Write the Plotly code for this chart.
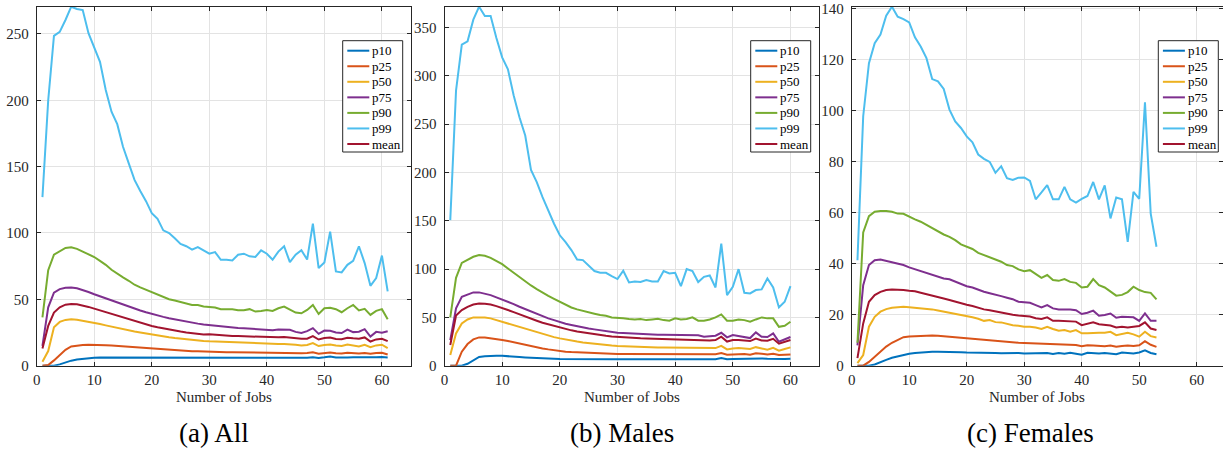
import plotly.graph_objects as go

# ---- data: wage percentiles by number of jobs held ----
jobs_all = list(range(1, 62))
jobs_males = list(range(1, 61))
jobs_females = list(range(1, 54))

all_p10 = [0, 0, 0, 1, 2.5, 3.8, 4.6, 5.2, 5.7, 6,
           6.1, 6.1, 6.1, 6.1, 6, 6, 6, 5.9, 5.9, 5.8,
           5.8, 5.8, 5.7, 5.7, 5.7, 5.7, 5.8, 5.8, 5.8, 5.8,
           5.8, 5.8, 5.8, 5.9, 5.9, 5.9, 5.9, 5.9, 6, 6,
           6, 6, 6, 6, 6, 6, 6, 6.3, 5.8, 6.3,
           7, 6.2, 6, 6.1, 6.3, 6.2, 6.3, 6.1, 6.3, 6.5,
           6.2]
all_p25 = [0, 0.5, 4, 8, 12, 14.5, 15.3, 15.6, 15.8, 15.8,
           15.7, 15.5, 15.2, 14.9, 14.6, 14.2, 13.8, 13.4, 13, 12.6,
           12.3, 12, 11.8, 11.5, 11.3, 11.1, 10.9, 10.8, 10.6, 10.5,
           10.4, 10.3, 10.2, 10.2, 10.1, 10, 10, 9.9, 9.9, 9.8,
           9.8, 9.8, 9.8, 9.7, 9.5, 9.4, 9.5, 10.2, 9.1, 9.5,
           10, 9.4, 9.2, 9.8, 9.5, 9.2, 9.6, 9, 9.6, 9.8,
           8.4]
all_p50 = [3, 11, 29, 33, 34.5, 35, 34.7, 34, 33.2, 32.3,
           31.4, 30.4, 29.4, 28.5, 27.6, 26.7, 25.8, 25, 24.2, 23.4,
           22.7, 22, 21.4, 20.8, 20.3, 19.8, 19.3, 19, 18.7, 18.4,
           18.2, 17.9, 17.7, 17.5, 17.3, 17.1, 16.9, 16.8, 16.6, 16.5,
           16.4, 16.4, 16.3, 16.2, 15.7, 15.3, 15.6, 17, 14.8, 15.6,
           16, 15.2, 14.9, 16, 15.4, 14.5, 15.8, 14, 15.3, 15.8,
           13.2]
all_p75 = [15, 44, 55, 57.7, 58.8, 59, 58.3, 57, 55.5, 53.8,
           52.2, 50.6, 49, 47.4, 45.9, 44.4, 43, 41.6, 40.3, 39,
           37.9, 36.8, 35.8, 34.9, 34, 33.2, 32.4, 31.7, 31, 30.5,
           30.2, 29.5, 29, 28.7, 28.4, 28.2, 27.9, 27.6, 27.3, 27,
           26.8, 27.2, 27.3, 27, 25.5, 24.7, 26, 28.3, 24, 26.5,
           26.3, 25, 24.6, 27.2, 25.3, 25.6, 27.5, 22, 25.5, 24.9,
           26]
all_p90 = [36.5, 72, 83.6, 86, 88.7, 89.2, 88, 86, 84, 81.9,
           79, 76, 72.3, 69.3, 66.5, 64, 61, 59, 57.2, 55.2,
           53.1, 51.6, 50.1, 49.1, 47.9, 46.9, 45.8, 45.8, 44.6, 44.3,
           43.8, 42.6, 42.8, 42.6, 41.8, 41.8, 42.6, 40.8, 41.3, 42,
           41.3, 43.3, 44.6, 42, 40, 39.5, 42, 45.8, 39, 43.3,
           43.6, 42.6, 40.3, 43.3, 45.8, 41.6, 42.8, 38.3, 41.3, 42.6,
           35]
all_p99 = [127, 200, 248.5, 251.5, 260.5, 270.5, 268.8, 268, 250.5, 240.4,
           229, 207.8, 191.4, 182, 165, 152.5, 140, 131.6, 124, 115,
           110.6, 102, 100, 96, 91.7, 90, 87.4, 89.4, 86.6, 84.4,
           85.6, 79.8, 79.8, 79.3, 83.6, 84.4, 82.4, 81.9, 86.9, 84.4,
           79.8, 86, 90, 78, 83.6, 87, 80, 107, 73.6, 77.8,
           101, 71, 70.3, 76, 79, 90, 77.3, 60.2, 66, 83,
           56]
all_mean = [13, 30, 40, 44, 46, 46.5, 46.3, 45.5, 44.3, 43,
            41.7, 40.2, 38.7, 37.4, 36, 34.7, 33.4, 32.2, 31, 29.9,
            28.9, 28, 27.2, 26.4, 25.7, 25, 24.4, 24, 23.6, 23.7,
            23.3, 22.8, 22.6, 22.4, 22.3, 22.1, 22, 21.8, 21.5, 21.3,
            21.2, 21.4, 21.6, 21.1, 20.5, 20.3, 20.3, 22.3, 19.7, 20.8,
            21.3, 20.1, 19.9, 21.1, 20.6, 20.3, 21.3, 18.2, 19.8, 20.3,
            18.5]

males_p10 = [0, 0, 0, 2, 5.5, 9, 9.8, 10.2, 10.3, 10.2,
             10, 9.5, 9, 8.6, 8.2, 7.9, 7.6, 7.4, 7.2, 7,
             6.9, 6.9, 6.8, 6.8, 6.8, 6.7, 6.7, 6.8, 6.8, 6.8,
             6.8, 6.8, 6.8, 6.8, 6.9, 6.9, 6.9, 6.9, 6.9, 7,
             7, 7, 7, 7, 7, 6.9, 6.8, 8, 6.8, 7,
             7.2, 7, 6.9, 7.8, 7.5, 7.2, 6.9, 6.8, 7, 7.3]
males_p25 = [0, 0, 14.5, 22.4, 27.2, 29.3, 29.3, 28.6, 27.6, 26.6,
             25.5, 24.1, 22.8, 21.4, 20.3, 19, 17.9, 16.9, 15.9, 15.2,
             14.5, 14.1, 13.8, 13.4, 13.1, 12.8, 12.4, 12.4, 12.1, 12.1,
             12, 12, 12, 12, 12, 12, 12, 11.9, 11.9, 11.9,
             11.9, 11.9, 11.9, 11.9, 11.8, 11.8, 11.8, 13.1, 11.4, 11.7,
             12.1, 12.1, 11.4, 12.8, 12.4, 11.7, 12.4, 11, 11.4, 11.7]
males_p50 = [11, 33.4, 43.8, 47.9, 50, 50.3, 50, 49, 47.2, 45.5,
             43.8, 41.7, 39.8, 37.8, 36, 34.2, 32.5, 31, 29.6, 28.3,
             27, 25.9, 25, 24.1, 23.3, 22.5, 21.8, 21.2, 20.8, 20.4,
             20.1, 19.8, 19.5, 19.3, 19.1, 19, 18.9, 18.8, 18.7, 18.6,
             18.5, 18.5, 18.4, 18.3, 18, 17.8, 18.2, 20.5, 16.8, 17.8,
             18.2, 17.8, 17.3, 19.2, 17.8, 16.5, 18.5, 15.5, 17.3, 19]
males_p75 = [26.5, 59.3, 71.4, 73.8, 75.9, 75.9, 74.8, 73.1, 70.7, 68.6,
             66.2, 63.8, 61, 58.6, 55.9, 53.4, 51, 49, 47.2, 45.2,
             43.4, 42.1, 40.7, 39.7, 38.6, 37.6, 36.6, 35.5, 34.8, 34.1,
             33.8, 33.4, 33.1, 32.8, 32.4, 32.4, 32.1, 32.1, 32.1, 32.1,
             31.7, 31.7, 32.1, 31.4, 30, 30.7, 31, 34.1, 29.3, 31.7,
             30.7, 29, 28.6, 34.5, 30, 29.7, 33.4, 24.8, 27.6, 29.7]
males_p90 = [50, 91, 106.5, 109.3, 112.8, 114.5, 113.8, 111.7, 108.6, 105.2,
             100.7, 96.2, 91.4, 87.2, 83.1, 79.3, 75.5, 72.4, 69.3, 66.2,
             62.8, 60.3, 58.3, 56.6, 54.8, 53.8, 52.4, 51.7, 50, 49.7,
             49, 48.3, 47.9, 48.3, 47.2, 47.9, 48.6, 47.2, 46.6, 49,
             47.9, 48.3, 50, 46.6, 46.6, 47.9, 50, 53.1, 46.6, 46.6,
             47.9, 47.2, 45.5, 47.9, 50, 49, 49, 40.3, 41.4, 45.5]
males_p99 = [150.7, 284.8, 332.4, 335.9, 358.3, 371.7, 362, 362, 339.3, 319.3,
             306.9, 279.7, 257.2, 238.3, 202.8, 190, 174.5, 160, 147, 135,
             128, 119.7, 110, 109.3, 103.4, 98, 96.2, 96.2, 92.8, 89.7,
             98.3, 86.2, 87.2, 86.6, 88.6, 87.2, 87.2, 98, 95.5, 96.2,
             82.4, 100, 98, 86.6, 92, 93.4, 81, 126.5, 73.1, 81.7,
             100, 75.5, 74.8, 78.3, 79, 90.3, 81, 60.3, 66.2, 82.4]
males_mean = [21.4, 52, 57.6, 61, 63.4, 64.5, 64.1, 63.4, 61.7, 59.3,
              57.6, 55.5, 53.1, 51, 48.6, 46.6, 44.5, 42.8, 41, 39.3,
              37.9, 36.6, 35.5, 34.5, 33.4, 32.4, 31.7, 31, 30.3, 29.8,
              29.3, 29, 28.7, 28.4, 28.2, 28, 27.8, 27.6, 27.4, 27.2,
              27, 27, 27.2, 26.8, 26.2, 26.2, 26.5, 30, 25, 26.6,
              26.6, 25.8, 25.5, 28, 26.2, 25.8, 27.8, 22.8, 24.9, 26.6]

females_p10 = [0, 0, 0, 0.5, 1.5, 2.3, 3.1, 3.7, 4.3, 4.7,
               5, 5.2, 5.4, 5.5, 5.5, 5.5, 5.4, 5.4, 5.3, 5.2,
               5.2, 5.1, 5, 5.1, 5, 4.9, 5, 4.9, 5, 4.8,
               4.9, 4.9, 4.8, 5, 4.6, 5, 4.7, 5.1, 4.7, 4.3,
               5.1, 4.9, 4.8, 5, 4.7, 4.5, 5.2, 5, 4.8, 5.2,
               6, 5, 4.5]
females_p25 = [0, 0, 1.5, 3.5, 5.7, 7.5, 9, 10.2, 11.2, 11.5,
               11.6, 11.8, 11.9, 11.9, 11.8, 11.6, 11.4, 11.2, 11, 10.8,
               10.6, 10.3, 10, 9.9, 9.7, 9.5, 9.3, 9.1, 9, 8.9,
               8.8, 8.6, 8.5, 8.5, 8.4, 8.4, 8.1, 8.2, 8.1, 7.6,
               8, 7.9, 7.8, 7.6, 7.9, 7.4, 7.7, 7.9, 7.7, 8,
               9.6, 8.2, 7.4]
females_p50 = [1, 4.2, 15.3, 19.2, 21.2, 22.2, 22.7, 23, 23.1, 22.9,
               22.7, 22.7, 22.4, 22.1, 21.7, 21.3, 20.8, 20.3, 19.9, 19.5,
               19, 18.4, 17.6, 17.9, 17.1, 17, 16.3, 15.9, 15.7, 15.3,
               15.3, 15, 14.4, 15.3, 14.4, 13.7, 14, 13.3, 14, 12.7,
               12.7, 12.9, 12.9, 12.9, 13.3, 12, 12.4, 12.9, 12.3, 11.4,
               13.3, 11.6, 11.1]
females_p75 = [8, 31.6, 39.5, 41.4, 41.7, 41.2, 40.5, 40.1, 39.5, 38.6,
               37.9, 37.1, 36.5, 35.9, 35.2, 34.2, 33.9, 32.9, 32, 31.2,
               30.7, 29.7, 29, 28.4, 28, 27.3, 26.7, 26.1, 25.1, 25,
               24.7, 23.8, 22.9, 23.8, 22.5, 22.1, 22.1, 22.1, 21.8, 20.3,
               20.8, 21.6, 19.6, 19.9, 20.5, 18.8, 19.2, 19.2, 19, 17.6,
               20.5, 17.6, 17.6]
females_p90 = [9, 52.3, 58.7, 60.4, 60.7, 60.7, 60.4, 59.7, 59.6, 58.4,
               57.4, 56.5, 55.2, 53.9, 52.8, 51.5, 50.6, 49.3, 47.6, 46.7,
               45.8, 44.3, 43.4, 42.4, 41.7, 40.8, 39.5, 39.1, 37.8, 37.1,
               37.5, 35.9, 34.5, 35.6, 33.6, 33.3, 34, 32.9, 32.5, 30.7,
               31, 34, 31.6, 30.7, 29, 27.5, 27.8, 28.9, 31, 29.7,
               28.9, 28.6, 26]
females_p99 = [41.4, 97.9, 118.7, 126.6, 130, 137.4, 140.9, 137, 136, 134.7,
               128.9, 125.3, 120.7, 112.5, 111.6, 108.6, 100.5, 95.9, 93.3, 90,
               87.7, 82.9, 81.2, 80, 75.7, 78.3, 73.6, 72.9, 73.8, 73.9,
               72.5, 65.3, 68, 70.9, 65.3, 65.3, 70.2, 65.3, 64, 65.5,
               66.6, 72.1, 65.3, 70.8, 57.8, 66, 65.3, 48.6, 68.2, 65.5,
               103.4, 59.7, 46.7]
females_mean = [3, 16.6, 25.1, 27.7, 29, 29.7, 29.9, 29.9, 29.7, 29.4,
                29.2, 28.6, 28.1, 27.6, 27.1, 26.4, 25.8, 25.1, 24.4, 23.9,
                23.4, 22.7, 22.1, 21.8, 21.3, 20.8, 20.3, 20, 19.7, 19.6,
                19.3, 18.6, 18.3, 19, 17.6, 17.6, 17.5, 17.3, 17.3, 15.9,
                16.3, 17, 16.3, 16.1, 15.8, 15, 15.3, 15, 15.3, 15.6,
                17, 14.6, 14]

series_names = ["p10", "p25", "p50", "p75", "p90", "p99", "mean"]
series_colors = ["#0072BD", "#D95319", "#EDB120", "#7E2F8E",
                 "#77AC30", "#4DBEEE", "#A2142F"]
captions = ["(a) All", "(b) Males", "(c) Females"]

panels = [
    (jobs_all, [all_p10, all_p25, all_p50, all_p75, all_p90, all_p99, all_mean], 50),
    (jobs_males, [males_p10, males_p25, males_p50, males_p75, males_p90, males_p99, males_mean], 50),
    (jobs_females, [females_p10, females_p25, females_p50, females_p75, females_p90, females_p99, females_mean], 20),
]

# ---- layout geometry (pixels on a 1223 x 449 canvas) ----
W, H = 1223, 449
x_domains_px = [(36.7, 410.7), (444.5, 819.3), (851.7, 1223)]
x_ranges = [[0, 65], [0, 65], [0, 64.57]]
y_top_px, y_bot_px = 6.7, 365.7
legend_left_px = [342.7, 750.7, 1158.3]
legend_top_px, legend_w, legend_h = 40.7, 60.0, 111.3
legend_row0, legend_step = 10.0, 15.55
caption_center_px = [214, 622, 1030]

AXIS_COLOR = "#262626"
GRID_COLOR = "#e3e3e3"
FONT = "Liberation Serif, Times New Roman, Times, serif"


def px_x(v):
    return v / W


def px_y(v):
    return 1 - v / H


fig = go.Figure()
shapes = []
annotations = []
layout = dict(
    width=W, height=H,
    margin=dict(l=0, r=0, t=0, b=0, autoexpand=False),
    paper_bgcolor="white", plot_bgcolor="white",
    showlegend=False,
)

for i, (xs, ys_list, ystep) in enumerate(panels):
    n = "" if i == 0 else str(i + 1)
    for name, color, ys in zip(series_names, series_colors, ys_list):
        fig.add_trace(go.Scatter(
            x=xs, y=ys, name=name, mode="lines",
            line=dict(color=color, width=2),
            xaxis="x" + n, yaxis="y" + n,
        ))
    ymax = max(max(s) for s in ys_list)
    x0, x1 = x_domains_px[i]
    common = dict(
        showline=True, linecolor=AXIS_COLOR, linewidth=1, mirror="ticks",
        ticks="inside", ticklen=4, tickcolor=AXIS_COLOR, tickwidth=1,
        showgrid=True, gridcolor=GRID_COLOR, gridwidth=1, zeroline=False,
        tickfont=dict(family=FONT, size=15, color=AXIS_COLOR),
        automargin=False,
    )
    layout["xaxis" + n] = dict(
        common, domain=[px_x(x0), min(px_x(x1), 1.0)], range=x_ranges[i],
        tickmode="linear", tick0=0, dtick=10,
        anchor="y" + n, ticklabelstandoff=0,
    )
    layout["yaxis" + n] = dict(
        common, domain=[px_y(y_bot_px), px_y(y_top_px)], range=[0, ymax],
        tickmode="linear", tick0=0, dtick=ystep,
        anchor="x" + n, ticklabelstandoff=4,
    )

    # legend box drawn in figure pixels
    lx, ly = legend_left_px[i], legend_top_px
    shapes.append(dict(
        type="rect", xref="paper", yref="paper",
        x0=px_x(lx), x1=px_x(lx + legend_w),
        y0=px_y(ly + legend_h), y1=px_y(ly),
        fillcolor="white", line=dict(color=AXIS_COLOR, width=1), layer="above",
    ))
    for k, (name, color) in enumerate(zip(series_names, series_colors)):
        cy = ly + legend_row0 + k * legend_step
        shapes.append(dict(
            type="line", xref="paper", yref="paper",
            x0=px_x(lx + 4.6), x1=px_x(lx + 26.6), y0=px_y(cy), y1=px_y(cy),
            line=dict(color=color, width=2), layer="above",
        ))
        annotations.append(dict(
            text=name, xref="paper", yref="paper",
            x=px_x(lx + 27.5), y=px_y(cy),
            xanchor="left", yanchor="middle", showarrow=False,
            font=dict(family=FONT, size=13, color="black"),
        ))

    annotations.append(dict(
        text="Number of Jobs", xref="paper", yref="paper",
        x=px_x((x0 + min(x1, W + 2.7)) / 2), y=px_y(397),
        xanchor="center", yanchor="middle", showarrow=False,
        font=dict(family=FONT, size=15, color=AXIS_COLOR),
    ))
    annotations.append(dict(
        text=captions[i], xref="paper", yref="paper",
        x=px_x(caption_center_px[i]), y=px_y(433),
        xanchor="center", yanchor="middle", showarrow=False,
        font=dict(family=FONT, size=27, color="black"),
    ))

layout["shapes"] = shapes
layout["annotations"] = annotations
fig.update_layout(**layout)
fig.write_html("out.html")
